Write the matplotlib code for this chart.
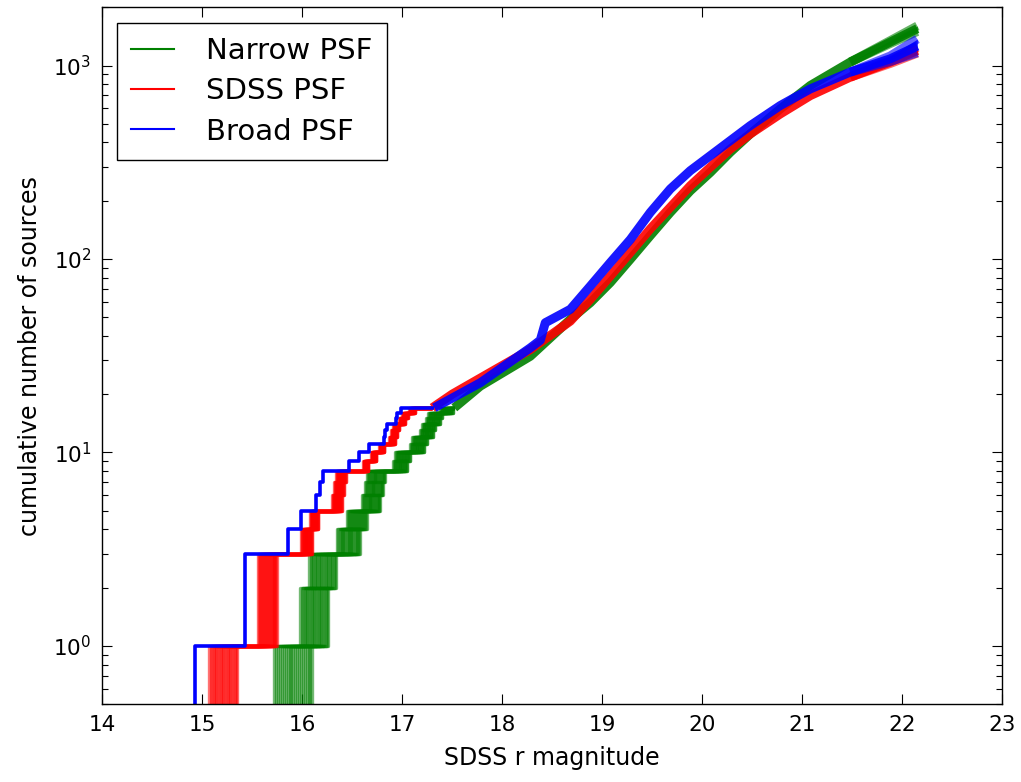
import numpy as np
import matplotlib
matplotlib.use("Agg")
import matplotlib.pyplot as plt

# ---------------- data ----------------
# Bright end: magnitude of each successive source (cumulative count +1), left edge of the
# realisation band, and the width of the band of realisations for that source.
green_src_mag = [15.72, 15.98, 16.07, 16.35, 16.45, 16.60, 16.63, 16.65, 16.91, 16.93,
                 17.08, 17.10, 17.18, 17.20, 17.24, 17.26, 17.38]
green_src_width = [0.38, 0.28, 0.27, 0.23, 0.20, 0.18, 0.18, 0.18, 0.14, 0.15,
                   0.14, 0.15, 0.13, 0.13, 0.14, 0.14, 0.13]
red_src_mag = [15.07, 15.56, 15.56, 15.99, 16.08, 16.30, 16.32, 16.34, 16.61, 16.69,
               16.77, 16.87, 16.89, 16.91, 16.97, 17.00, 17.07]
red_src_width = [0.28, 0.19, 0.19, 0.11, 0.08, 0.10, 0.10, 0.10, 0.05, 0.05,
                 0.05, 0.06, 0.06, 0.06, 0.06, 0.06, 0.06]
blue_src_mag = [14.93, 15.43, 15.43, 15.86, 15.99, 16.14, 16.18, 16.21, 16.47, 16.57,
                16.67, 16.82, 16.83, 16.85, 16.94, 16.95, 16.99]
blue_src_width = [0.01] * 17

# Faint end: cumulative counts (smooth part)
green_faint_mag = [17.52, 17.78, 18.28, 18.68, 18.88, 19.08, 19.28, 19.48, 19.68, 19.88,
                   20.08, 20.28, 20.48, 20.78, 21.08, 21.48, 21.88, 22.15]
green_faint_n = [17, 22, 31.4, 48.7, 59.4, 75.5, 99.6, 132, 174, 225,
                 280, 356, 443, 597, 788, 1042, 1322, 1550]
red_faint_mag = [17.30, 17.50, 17.94, 18.28, 18.68, 18.88, 19.08, 19.28, 19.48, 19.68,
                 19.88, 20.08, 20.28, 20.48, 20.78, 21.08, 21.48, 21.88, 22.15]
red_faint_n = [17, 20, 27, 34, 47.7, 61.8, 81.6, 108, 143, 185,
               239, 298, 370, 443, 562, 699, 871, 1042, 1196]
blue_faint_mag = [17.32, 17.78, 18.28, 18.38, 18.43, 18.68, 18.88, 19.08, 19.28, 19.48,
                  19.68, 19.88, 20.08, 20.28, 20.48, 20.78, 21.08, 21.48, 21.88, 22.15]
blue_faint_n = [17, 22.9, 34.7, 38, 46.8, 54.9, 72.4, 95.8, 126, 174,
                230, 286, 342, 409, 489, 621, 757, 925, 1083, 1260]

# Spread of realisations at the faint end
green_fan_mag = [21.48, 21.88, 22.15]
green_fan_lo = [1042, 1300, 1500]
green_fan_hi = [1042, 1345, 1600]
red_fan_mag = [21.48, 21.88, 22.15]
red_fan_lo = [871, 1025, 1160]
red_fan_hi = [871, 1060, 1235]
blue_fan_mag = [21.48, 21.88, 22.15]
blue_fan_lo = [925, 1050, 1165]
blue_fan_hi = [925, 1120, 1370]

labels = ["Narrow PSF", "SDSS PSF", "Broad PSF"]
colors = ["g", "r", "b"]
xticks = [14, 15, 16, 17, 18, 19, 20, 21, 22, 23]

# ---------------- figure ----------------
plt.rcParams["mathtext.default"] = "regular"
fig = plt.figure(figsize=(10.21, 7.82), dpi=100)
ax = fig.add_axes([0.1002, 0.0997, 0.8815, 0.891])
ax.set_yscale("log")

realisation_frac = np.linspace(0.0, 1.0, 21)

sets = [
    (green_src_mag, green_src_width, green_faint_mag, green_faint_n,
     green_fan_mag, green_fan_lo, green_fan_hi),
    (red_src_mag, red_src_width, red_faint_mag, red_faint_n,
     red_fan_mag, red_fan_lo, red_fan_hi),
    (blue_src_mag, blue_src_width, blue_faint_mag, blue_faint_n,
     blue_fan_mag, blue_fan_lo, blue_fan_hi),
]

for (smag, swid, fmag, fn, fanm, fanlo, fanhi), col, lab in zip(sets, colors, labels):
    smag = np.asarray(smag)
    swid = np.asarray(swid)
    counts = np.arange(1, len(smag) + 1)
    single = np.all(swid <= 0.011)
    fracs = [0.0] if single else realisation_frac
    for f in fracs:
        m = np.sort(smag + f * swid)
        x = np.concatenate([[m[0]], m, [fmag[0]]])
        y = np.concatenate([[0.1], counts, [counts[-1]]])
        ax.step(x, y, where="post", color=col, lw=(2.6 if single else 2.4),
                alpha=(1.0 if single else 0.55), solid_capstyle="butt")
    ax.plot(fmag, fn, color=col, lw=6.5, alpha=0.9, solid_capstyle="butt",
            solid_joinstyle="round")
    ax.fill_between(fanm, fanlo, fanhi, color=col, alpha=0.85, lw=0)
    ax.plot(fanm, fanlo, color=col, lw=6.5, alpha=0.6, solid_capstyle="butt")
    ax.plot(fanm, fanhi, color=col, lw=6.5, alpha=0.6, solid_capstyle="butt")
    ax.plot([], [], color=col, lw=1.5, label=lab)

ax.set_xlim(14, 23)
ax.set_ylim(0.5, 2000)
ax.set_xticks(xticks)
ax.tick_params(which="both", direction="in", top=True, right=True)
ax.tick_params(which="major", length=7, width=0.8, labelsize=15.5, pad=8)
ax.tick_params(which="minor", length=4, width=0.8)
for s in ax.spines.values():
    s.set_linewidth(1.0)

ax.set_xlabel("SDSS r magnitude", fontsize=17, labelpad=8)
ax.set_ylabel("cumulative number of sources", fontsize=17, labelpad=8)

leg = ax.legend(loc="upper left", bbox_to_anchor=(0.016, 0.978), borderaxespad=0,
                fontsize=21, fancybox=False, framealpha=1, edgecolor="black",
                handlelength=1.45, handletextpad=1.1, labelspacing=0.42, borderpad=0.5)
leg.get_frame().set_linewidth(1.0)

fig.savefig("out.png", dpi=100)
